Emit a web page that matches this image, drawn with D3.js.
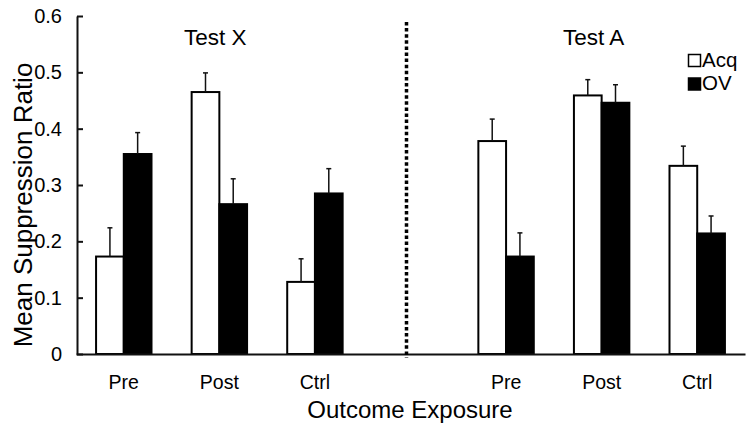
<!DOCTYPE html>
<html>
<head>
<meta charset="utf-8">
<script src="https://cdn.jsdelivr.net/npm/d3@7"></script>
<style>
  body { margin: 0; background: #fff; }
  text { font-family: "Liberation Sans", Arial, sans-serif; fill: #000; }
</style>
</head>
<body>
<svg id="chart" width="756" height="426"></svg>
<script>
// values
const categories = ["Pre", "Post", "Ctrl"];
const tests = ["Test X", "Test A"];
const series = ["Acq", "OV"];

const acqX = [0.173, 0.465, 0.128];
const acqXErr = [0.051, 0.034, 0.041];
const ovX = [0.355, 0.266, 0.285];
const ovXErr = [0.038, 0.045, 0.044];

const acqA = [0.378, 0.459, 0.334];
const acqAErr = [0.039, 0.028, 0.035];
const ovA = [0.173, 0.446, 0.214];
const ovAErr = [0.042, 0.032, 0.031];

const yTicks = [0, 0.1, 0.2, 0.3, 0.4, 0.5, 0.6];

// slot keys: three per test with an empty slot between the tests
const slots = ["X-Pre", "X-Post", "X-Ctrl", "gap", "A-Pre", "A-Post", "A-Ctrl"];

const rows = [];
categories.forEach((c, i) => {
  rows.push({ slot: "X-" + c, s: "Acq", v: acqX[i], e: acqXErr[i] });
  rows.push({ slot: "X-" + c, s: "OV", v: ovX[i], e: ovXErr[i] });
  rows.push({ slot: "A-" + c, s: "Acq", v: acqA[i], e: acqAErr[i] });
  rows.push({ slot: "A-" + c, s: "OV", v: ovA[i], e: ovAErr[i] });
});

const svg = d3.select("#chart");

const x = d3.scaleBand().domain(slots).range([76, 745]);
const bw = x.bandwidth();
const x1 = d3.scaleBand().domain(series).range([bw * 0.21, bw * 0.79]);
const y = d3.scaleLinear().domain([0, 0.6]).range([354, 16]);

// bars
svg.append("g")
  .selectAll("rect")
  .data(rows)
  .enter().append("rect")
  .attr("x", d => x(d.slot) + x1(d.s))
  .attr("y", d => y(d.v))
  .attr("width", x1.bandwidth())
  .attr("height", d => y(0) - y(d.v))
  .attr("fill", d => d.s === "Acq" ? "#fff" : "#000")
  .attr("stroke", "#000")
  .attr("stroke-width", 2);

// error bars (upper half only)
const err = svg.append("g")
  .attr("stroke", "#111")
  .attr("stroke-width", 1.5)
  .selectAll("g")
  .data(rows)
  .enter().append("g")
  .attr("transform", d => "translate(" + (x(d.slot) + x1(d.s) + x1.bandwidth() / 2) + ",0)");

err.append("line")
  .attr("y1", d => y(d.v))
  .attr("y2", d => y(d.v + d.e));
err.append("line")
  .attr("x1", -2.5).attr("x2", 2.5)
  .attr("y1", d => y(d.v + d.e))
  .attr("y2", d => y(d.v + d.e));

// x axis
const xAxis = svg.append("g")
  .attr("transform", "translate(0," + y(0) + ")")
  .call(d3.axisBottom(x).tickSize(0).tickSizeOuter(0)
    .tickFormat(d => d === "gap" ? "" : d.slice(2)));
xAxis.select(".domain").attr("stroke", "#111").attr("stroke-width", 2);
xAxis.selectAll("text")
  .attr("y", 35).attr("dy", 0)
  .style("font-size", "19.5px")
  .style("font-family", "'Liberation Sans', Arial, sans-serif")
  .attr("fill", "#000");

// y axis, ticks pointing inward
const yAxis = svg.append("g")
  .attr("transform", "translate(77,0)")
  .call(d3.axisLeft(y).tickValues(yTicks).tickSizeInner(-6).tickSizeOuter(0)
    .tickPadding(15).tickFormat(d => d === 0 ? "0" : d.toFixed(1)));
yAxis.select(".domain").attr("stroke", "#111").attr("stroke-width", 2);
yAxis.selectAll(".tick line").attr("stroke", "#111").attr("stroke-width", 2);
yAxis.selectAll("text")
  .style("font-size", "20px")
  .style("font-family", "'Liberation Sans', Arial, sans-serif")
  .attr("fill", "#000");

// dotted divider between the tests
const divX = x("gap") + bw / 2 - 4;
svg.append("line")
  .attr("x1", divX).attr("x2", divX)
  .attr("y1", 22).attr("y2", 358)
  .attr("stroke", "#000")
  .attr("stroke-width", 3.5)
  .attr("stroke-dasharray", "3.5,2.6");

// panel titles
svg.append("g")
  .selectAll("text")
  .data(tests)
  .enter().append("text")
  .attr("x", (d, i) => i === 0 ? x("X-Post") + bw / 2 - 4 : x("A-Post") + bw / 2 - 8)
  .attr("y", 45)
  .attr("text-anchor", "middle")
  .style("font-size", "22.5px")
  .text(d => d);

// axis titles
svg.append("text")
  .attr("x", 410).attr("y", 418)
  .attr("text-anchor", "middle")
  .style("font-size", "24px")
  .text("Outcome Exposure");

svg.append("text")
  .attr("transform", "translate(32,205) rotate(-90)")
  .attr("text-anchor", "middle")
  .style("font-size", "26px")
  .text("Mean Suppression Ratio");

// legend
const legend = svg.append("g")
  .selectAll("g")
  .data(series)
  .enter().append("g")
  .attr("transform", (d, i) => "translate(688.5," + (54.5 + i * 23.5) + ")");
legend.append("rect")
  .attr("width", 12).attr("height", 12)
  .attr("fill", d => d === "Acq" ? "#fff" : "#000")
  .attr("stroke", "#000")
  .attr("stroke-width", 1.5);
legend.append("text")
  .attr("x", 13.5).attr("y", 12)
  .style("font-size", "20.5px")
  .text(d => d);
</script>
</body>
</html>
